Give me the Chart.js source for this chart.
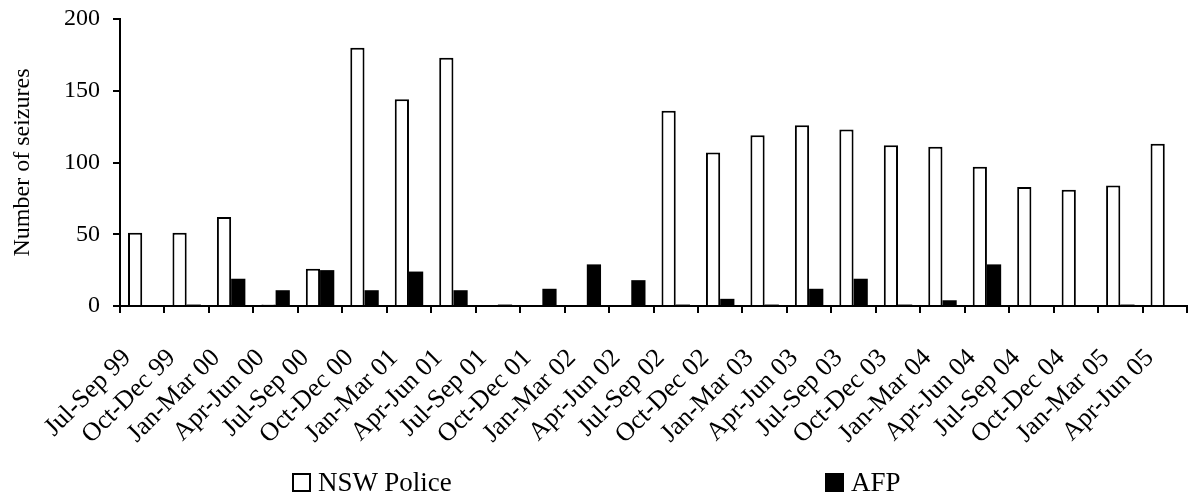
<!DOCTYPE html>
<html>
<head>
<meta charset="utf-8">
<script src="https://cdn.jsdelivr.net/npm/chart.js@4/dist/chart.umd.min.js"></script>
<style>
  body { margin: 0; background: #fff; }
  #wrap { position: relative; width: 1188px; height: 497px; }
  .item { position: absolute; top: 469px; display: flex; align-items: center; font: 27px 'Liberation Serif', serif; color: #000; line-height: 27px; }
  .box { width: 19px; height: 19px; border: 2px solid #000; box-sizing: border-box; margin-right: 7px; }
</style>
</head>
<body>
<div id="wrap">
  <canvas id="seizures-chart" width="1188" height="497"></canvas>
</div>
<script>
/*global Chart */
const quarters = [
  'Jul-Sep 99', 'Oct-Dec 99', 'Jan-Mar 00', 'Apr-Jun 00', 'Jul-Sep 00', 'Oct-Dec 00',
  'Jan-Mar 01', 'Apr-Jun 01', 'Jul-Sep 01', 'Oct-Dec 01', 'Jan-Mar 02', 'Apr-Jun 02',
  'Jul-Sep 02', 'Oct-Dec 02', 'Jan-Mar 03', 'Apr-Jun 03', 'Jul-Sep 03', 'Oct-Dec 03',
  'Jan-Mar 04', 'Apr-Jun 04', 'Jul-Sep 04', 'Oct-Dec 04', 'Jan-Mar 05', 'Apr-Jun 05'
]
const nswPolice = [51, 51, 62, 1, 26, 180, 144, 173, 0, 0, 0, 0, 136, 107, 119, 126, 123, 112, 111, 97, 83, 81, 84, 113]
const afp = [0, 1, 19, 11, 25, 11, 24, 11, 1, 12, 29, 18, 1, 5, 1, 12, 19, 1, 4, 29, 0, 0, 1, 0]
const yTicks = [0, 50, 100, 150, 200]

const font = { family: "'Liberation Serif', serif", size: 24 }
const labelFont = { family: "'Liberation Serif', serif", size: 26 }

const datasets = [
  { label: 'NSW Police', data: nswPolice, backgroundColor: '#fff', borderColor: '#000', borderWidth: 2 },
  { label: 'AFP', data: afp, backgroundColor: '#000', borderColor: '#000', borderWidth: 0 },
]

// legend drawn as html, positioned like the original
const legendLeft = [292, 825]
datasets.forEach((set, i) => {
  const item = document.createElement('div')
  item.className = 'item'
  item.style.left = legendLeft[i] + 'px'
  const box = document.createElement('span')
  box.className = 'box'
  box.style.background = set.backgroundColor
  item.appendChild(box)
  item.appendChild(document.createTextNode(set.label))
  document.getElementById('wrap').appendChild(item)
})

const context = document.getElementById('seizures-chart').getContext('2d')

new Chart(context, {
  type: 'bar',
  data: { labels: quarters, datasets },
  options: {
    responsive: false,
    animation: false,
    datasets: { bar: { categoryPercentage: 0.64, barPercentage: 1 } },
    layout: { padding: { top: 19, right: 1, left: 0, bottom: 0 } },
    plugins: { legend: { display: false }, tooltip: { enabled: false } },
    scales: {
      x: {
        grid: { offset: true, drawOnChartArea: false, tickLength: 7, color: '#000', lineWidth: 2 },
        border: { color: '#000', width: 2 },
        ticks: { minRotation: 45, maxRotation: 45, autoSkip: false, color: '#000', font: labelFont, padding: 30, labelOffset: -15 },
        afterFit: scale => {
          scale.height = 191
          scale.paddingLeft = 0
          scale.paddingRight = 0
        },
      },
      y: {
        min: 0,
        max: 200,
        afterBuildTicks: scale => { scale.ticks = yTicks.map(value => ({ value })) },
        grid: { drawOnChartArea: false, tickLength: 7, color: '#000', lineWidth: 2 },
        border: { color: '#000', width: 2 },
        ticks: { color: '#000', font, padding: 13 },
        title: { display: true, text: 'Number of seizures', color: '#000', font, padding: { top: 8, bottom: 0 } },
        afterFit: scale => {
          scale.width = 120
          scale.paddingTop = 0
          scale.paddingBottom = 0
        },
      },
    },
  },
})
</script>
</body>
</html>
